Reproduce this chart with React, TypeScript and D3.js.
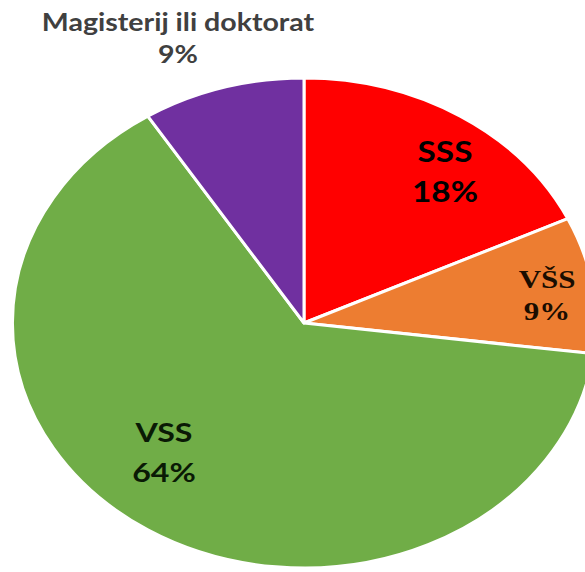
import React from "react";
import * as d3 from "d3";

const categories = ["SSS", "VŠS", "VSS", "Magisterij ili doktorat"];
const values = [18, 9, 64, 9];
const percentLabels = ["18%", "9%", "64%", "9%"];
const colors = ["#FF0000", "#ED7D31", "#70AD47", "#7030A0"];

const W = 585;
const H = 572;
const cx = 304;
const cy = 323;
const R = 245;
const SX = 1.19;

const labelLayout = [
  { x: 445, y: 162, gap: 40, font: "Lato, 'Open Sans', sans-serif", size: 28, fill: "#000" },
  { x: 547, y: 288, gap: 32, font: "'Liberation Serif', 'DejaVu Serif', serif", size: 26, fill: "#1a0d00" },
  { x: 164, y: 442, gap: 40, font: "Lato, 'Open Sans', sans-serif", size: 27, fill: "#0a1a05" },
  { x: 178, y: 31, gap: 32, font: "Lato, 'Open Sans', sans-serif", size: 24, fill: "#404040" },
];

export default function App() {
  const pie = d3.pie<number>().sort(null).value((d) => d)(values);
  const arc = d3.arc<d3.PieArcDatum<number>>().innerRadius(0).outerRadius(R);
  return (
    <svg width={W} height={H} style={{ position: "absolute", left: 0, top: 0, background: "#fff" }}>
      <rect width={W} height={H} fill="#fff" />
      <g transform={`translate(${cx},${cy}) scale(${SX},1)`}>
        {pie.map((p, i) => (
          <path key={i} d={arc(p) || ""} fill={colors[i]} stroke="#fff" strokeWidth={3} strokeLinejoin="round" vectorEffect="non-scaling-stroke" />
        ))}
      </g>
      {categories.map((c, i) => {
        const L = labelLayout[i];
        return (
          <g key={c} transform={`translate(${L.x},0) scale(${SX},1)`}>
            <text textAnchor="middle" y={L.y} fontFamily={L.font} fontSize={L.size} fontWeight="bold" fill={L.fill}>
              {c}
            </text>
            <text textAnchor="middle" y={L.y + L.gap} fontFamily={L.font} fontSize={L.size} fontWeight="bold" fill={L.fill}>
              {percentLabels[i]}
            </text>
          </g>
        );
      })}
    </svg>
  );
}
